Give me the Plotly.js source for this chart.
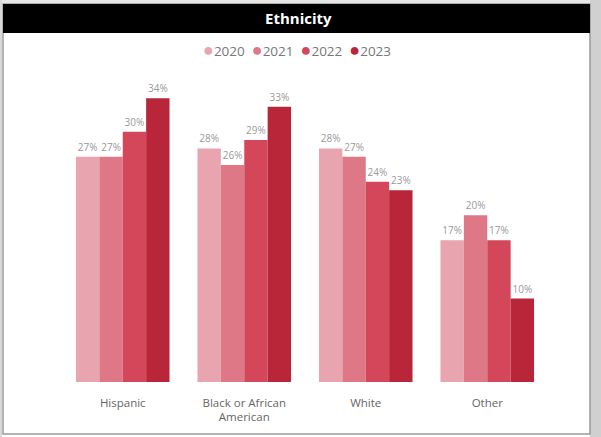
<!DOCTYPE html>
<html>
<head>
<meta charset="utf-8">
<script src="https://cdn.plot.ly/plotly-3.0.1.min.js"></script>
<style>html,body{margin:0;padding:0;background:#fff;}#chart{width:601px;height:437px;}</style>
</head>
<body>
<div id="chart"></div>
<script>
const categories = ["Hispanic", "Black or African<br>American", "White", "Other"];
const years = ["2020", "2021", "2022", "2023"];
const v2020 = [0.27, 0.28, 0.28, 0.17];
const v2021 = [0.27, 0.26, 0.27, 0.20];
const v2022 = [0.30, 0.29, 0.24, 0.17];
const v2023 = [0.34, 0.33, 0.23, 0.10];
const colors = ["#E8A4AF", "#DE7786", "#D4465A", "#B92539"];

const series = [v2020, v2021, v2022, v2023];
const fontFam = "Open Sans, Noto Sans, sans-serif";

const traces = series.map((vals, i) => ({
  type: "bar",
  name: years[i],
  x: categories,
  y: vals,
  marker: {color: colors[i]},
  text: vals.map(v => Math.round(v * 100) + "%"),
  textposition: "outside",
  textfont: {color: "#999999", size: 10, family: fontFam},
  cliponaxis: false,
  showlegend: false,
  hoverinfo: "none"
}));

// legend drawn as text: coloured dots + year labels
const legendText = years.map((y, i) =>
  "<span style='color:" + colors[i] + ";font-size:18px'>●</span>" + y
).join("&nbsp;&nbsp;");

const L = 62, R = 548, T = 65, B = 382;
const px = x => (x - L) / (R - L);
const py = y => (B - y) / (B - T);

const layout = {
  width: 601,
  height: 437,
  margin: {l: L, r: 601 - R, t: T, b: 437 - B},
  paper_bgcolor: "#ffffff",
  plot_bgcolor: "#ffffff",
  barmode: "group",
  bargap: 0.23,
  bargroupgap: 0,
  showlegend: false,
  font: {family: fontFam, color: "#666"},
  xaxis: {
    type: "category",
    showgrid: false,
    zeroline: false,
    showline: false,
    ticks: "",
    ticklabelstandoff: 12,
    tickfont: {size: 11.5, color: "#666", family: fontFam},
    fixedrange: true
  },
  yaxis: {
    range: [0, 0.38],
    showgrid: false,
    zeroline: false,
    showticklabels: false,
    showline: false,
    fixedrange: true
  },
  shapes: [
    {type: "rect", xref: "paper", yref: "paper", x0: px(0), x1: px(601), y0: py(4), y1: py(0), fillcolor: "#e6e6e6", line: {width: 0}, layer: "below"},
    {type: "rect", xref: "paper", yref: "paper", x0: px(590), x1: px(601), y0: py(437), y1: py(0), fillcolor: "#d0d0d0", line: {width: 0}, layer: "below"},
    {type: "rect", xref: "paper", yref: "paper", x0: px(0), x1: px(2), y0: py(437), y1: py(0), fillcolor: "#d8d8d8", line: {width: 0}, layer: "below"},
    {type: "rect", xref: "paper", yref: "paper", x0: px(3), x1: px(590), y0: py(434), y1: py(4), fillcolor: "rgba(0,0,0,0)", line: {width: 1.5, color: "#9a9a9a"}, layer: "below"},
    {type: "rect", xref: "paper", yref: "paper", x0: px(3), x1: px(590), y0: py(33), y1: py(4), fillcolor: "#000000", line: {width: 0}, layer: "below"}
  ],
  annotations: [
    {text: "<b>Ethnicity</b>", xref: "paper", yref: "paper", x: px(298), y: py(18), xanchor: "center", yanchor: "middle", showarrow: false, font: {size: 15, color: "#ffffff", family: fontFam}},
    {text: legendText, xref: "paper", yref: "paper", x: px(297), y: py(49), xanchor: "center", yanchor: "middle", showarrow: false, font: {size: 13.5, color: "#777", family: fontFam}}
  ]
};

Plotly.newPlot("chart", traces, layout, {displayModeBar: false, staticPlot: true});
</script>
</body>
</html>
